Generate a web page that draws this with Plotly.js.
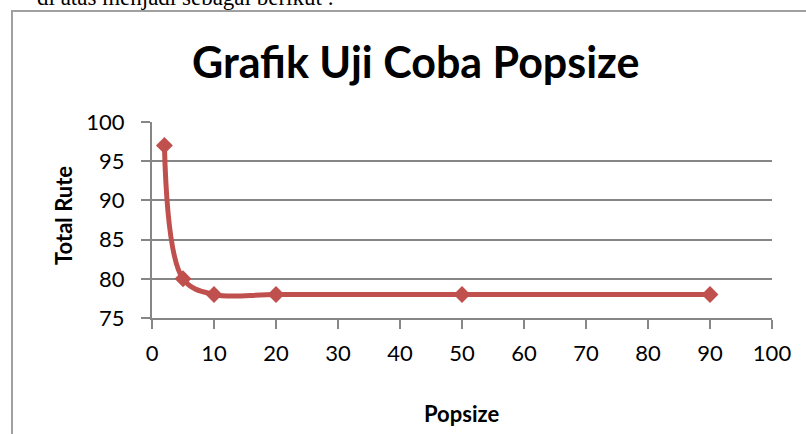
<!DOCTYPE html>
<html>
<head>
<meta charset="utf-8">
<script src="https://cdn.plot.ly/plotly-3.0.1.min.js"></script>
<style>
  html, body { margin: 0; padding: 0; background: #fff; overflow: hidden; }
  #wrap { position: relative; width: 806px; height: 434px; overflow: hidden; }
  #toptext { position: absolute; left: 37px; top: -14px; font-family: "Liberation Serif", "Times New Roman", serif; font-size: 23px; line-height: 23px; color: #000; white-space: nowrap; }
  #box { position: absolute; left: 11px; top: 10px; width: 820px; height: 450px; border-left: 2px solid #a0a0a0; border-top: 2px solid #a0a0a0; }
  #chart { position: absolute; left: 0; top: 0; width: 806px; height: 434px; }
</style>
</head>
<body>
<div id="wrap">
  <div id="toptext">di atas menjadi sebagai berikut :</div>
  <div id="box"></div>
  <div id="chart"></div>
</div>
<script>
const popsize = [2, 5, 10, 20, 50, 90];
const totalRute = [97, 80, 78, 78, 78, 78];
const xTicks = [0, 10, 20, 30, 40, 50, 60, 70, 80, 90, 100];
const yTicks = [75, 80, 85, 90, 95, 100];
const chartTitle = "Grafik Uji Coba Popsize";
const xTitle = "Popsize";
const yTitle = "Total Rute";

const trace = {
  x: popsize,
  y: totalRute,
  type: 'scatter',
  mode: 'lines+markers',
  line: { color: '#C0504D', width: 5, shape: 'spline', smoothing: 1 },
  marker: { symbol: 'diamond', size: 13, color: '#C0504D' },
  hoverinfo: 'none'
};

const font = "Lato, 'Open Sans', sans-serif";

const layout = {
  width: 806, height: 434,
  margin: { l: 152, r: 34, t: 122, b: 116 },
  paper_bgcolor: 'rgba(0,0,0,0)',
  plot_bgcolor: 'rgba(0,0,0,0)',
  showlegend: false,
  font: { family: font, color: '#000' },
  xaxis: {
    range: [0, 100],
    tickvals: xTicks,
    ticktext: xTicks.map(String),
    showgrid: false,
    zeroline: false,
    showline: true,
    linecolor: '#868686',
    linewidth: 2,
    ticks: 'outside',
    ticklen: 9,
    tickwidth: 2,
    tickcolor: '#868686',
    tickfont: { family: font, size: 22, color: '#000' },
    ticklabelstandoff: 6
  },
  yaxis: {
    range: [75, 100],
    tickvals: yTicks,
    ticktext: yTicks.map(String),
    showgrid: true,
    gridcolor: '#868686',
    gridwidth: 2,
    zeroline: false,
    showline: true,
    linecolor: '#868686',
    linewidth: 2,
    ticks: 'outside',
    ticklen: 9,
    tickwidth: 2,
    tickcolor: '#868686',
    tickfont: { family: font, size: 22, color: '#000' },
    ticklabelstandoff: 12
  },
  annotations: [
    { text: '<b>' + chartTitle + '</b>', xref: 'paper', yref: 'paper', x: (415 - 152) / 620, y: 1.0 + 60 / 196,
      xanchor: 'center', yanchor: 'middle', showarrow: false, font: { family: font, size: 43, color: '#000' } },
    { text: '<b>' + xTitle + '</b>', xref: 'paper', yref: 'paper', x: (461 - 152) / 620, y: -(413 - 318) / 196,
      xanchor: 'center', yanchor: 'middle', showarrow: false, font: { family: font, size: 22, color: '#000' } },
    { text: '<b>' + yTitle + '</b>', xref: 'paper', yref: 'paper', x: (63 - 152) / 620, y: (318 - 216) / 196,
      xanchor: 'center', yanchor: 'middle', textangle: -90, showarrow: false, font: { family: font, size: 22, color: '#000' } }
  ]
};

Plotly.newPlot('chart', [trace], layout, { staticPlot: true, displayModeBar: false });
</script>
</body>
</html>
